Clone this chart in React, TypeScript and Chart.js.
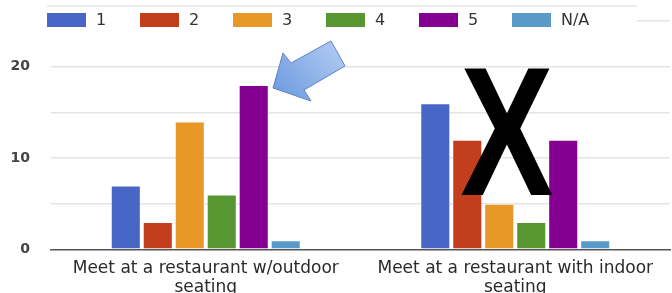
import React, { useEffect, useRef } from 'react';
import { Chart, registerables } from 'chart.js';

Chart.register(...registerables);

const categories = [
  ['Meet at a restaurant w/outdoor', 'seating'],
  ['Meet at a restaurant with indoor', 'seating'],
];
const seriesLabels = ['1', '2', '3', '4', '5', 'N/A'];
const series1 = [7, 16];
const series2 = [3, 12];
const series3 = [14, 5];
const series4 = [6, 3];
const series5 = [18, 12];
const seriesNA = [1, 1];
const seriesColors = ['#4866c6', '#c23e1c', '#e89826', '#589632', '#840090', '#5a9ac8'];
const yTickLabels = [0, 10, 20];
const annotationMark = 'X';

const FONT = '"DejaVu Sans", "Liberation Sans", Arial, sans-serif';
const XFONT = '"Liberation Sans", Arial, sans-serif';

const overlay = {
  id: 'overlay',
  afterDraw(chart: any) {
    const ctx = chart.ctx as CanvasRenderingContext2D;
    ctx.save();
    // legend background (hides the top gridline behind the legend)
    ctx.fillStyle = '#ffffff';
    ctx.fillRect(0, 9, 637, 30);
    // separator line above legend
    ctx.strokeStyle = '#ececec';
    ctx.lineWidth = 2;
    ctx.beginPath();
    ctx.moveTo(47, 6);
    ctx.lineTo(637, 6);
    ctx.stroke();
    // legend
    ctx.font = `16px ${FONT}`;
    ctx.textBaseline = 'middle';
    ctx.textAlign = 'left';
    chart.data.datasets.forEach((ds: any, i: number) => {
      const x = 47 + i * 93;
      ctx.fillStyle = ds.backgroundColor;
      ctx.fillRect(x, 13, 39, 14);
      ctx.fillStyle = '#333';
      ctx.fillText(ds.label, x + 49, 21);
    });
    // arrow
    const grad = ctx.createLinearGradient(345, 45, 280, 100);
    grad.addColorStop(0, '#b4cdf2');
    grad.addColorStop(1, '#6e9be0');
    ctx.fillStyle = grad;
    ctx.strokeStyle = '#5a84c6';
    ctx.lineWidth = 1;
    ctx.beginPath();
    ctx.moveTo(273, 88);
    ctx.lineTo(283, 53);
    ctx.lineTo(291, 63);
    ctx.lineTo(331, 41);
    ctx.lineTo(345, 66);
    ctx.lineTo(304, 90);
    ctx.lineTo(311, 101);
    ctx.closePath();
    ctx.fill();
    ctx.stroke();
    // big X annotation
    ctx.translate(507, 195);
    ctx.scale(0.76, 1);
    ctx.fillStyle = '#000';
    ctx.font = `bold 184px ${XFONT}`;
    ctx.textAlign = 'center';
    ctx.textBaseline = 'alphabetic';
    ctx.fillText(annotationMark, 0, 0);
    ctx.restore();
  },
};

export default function App() {
  const ref = useRef<HTMLCanvasElement | null>(null);
  useEffect(() => {
    if (!ref.current) return;
    const allSeries = [series1, series2, series3, series4, series5, seriesNA];
    const chart = new Chart(ref.current, {
      type: 'bar',
      data: {
        labels: categories,
        datasets: allSeries.map((d, i) => ({
          label: seriesLabels[i],
          data: d,
          backgroundColor: seriesColors[i],
          borderColor: 'rgba(255,255,255,0.35)',
          borderWidth: 1,
          categoryPercentage: 0.62,
          barPercentage: 0.94,
        })),
      },
      options: {
        responsive: false,
        animation: false,
        layout: { padding: { top: 21, right: 2, left: 0, bottom: 0 } },
        plugins: { legend: { display: false }, tooltip: { enabled: false } },
        scales: {
          x: {
            grid: { display: false, drawTicks: false },
            border: { color: '#555', width: 1.5 },
            ticks: {
              color: '#2a2a2a',
              font: { family: FONT, size: 17, lineHeight: 1.12 },
              padding: 10,
              maxRotation: 0,
              autoSkip: false,
            },
            afterFit: (s: any) => {
              s.height = 43.7;
            },
          },
          y: {
            min: 0,
            max: 25,
            ticks: {
              stepSize: 5,
              callback: (v: any) => (yTickLabels.includes(Number(v)) ? String(v) : ''),
              padding: 21,
              color: '#444',
              font: { family: FONT, size: 14, weight: 'bold' },
            },
            grid: {
              color: (c: any) => (c.tick && c.tick.value === 0 ? 'rgba(0,0,0,0)' : '#e4e4e4'),
              drawTicks: false,
              lineWidth: 1.5,
            },
            border: { display: false },
            afterFit: (s: any) => {
              s.width = 51;
              s.paddingTop = 0;
              s.paddingBottom = 0;
            },
          },
        },
      },
      plugins: [overlay],
    });
    return () => chart.destroy();
  }, []);
  return (
    <div style={{ position: 'absolute', left: 0, top: 0, width: 672, height: 293 }}>
      <canvas ref={ref} width={672} height={293} style={{ width: 672, height: 293 }} />
    </div>
  );
}
